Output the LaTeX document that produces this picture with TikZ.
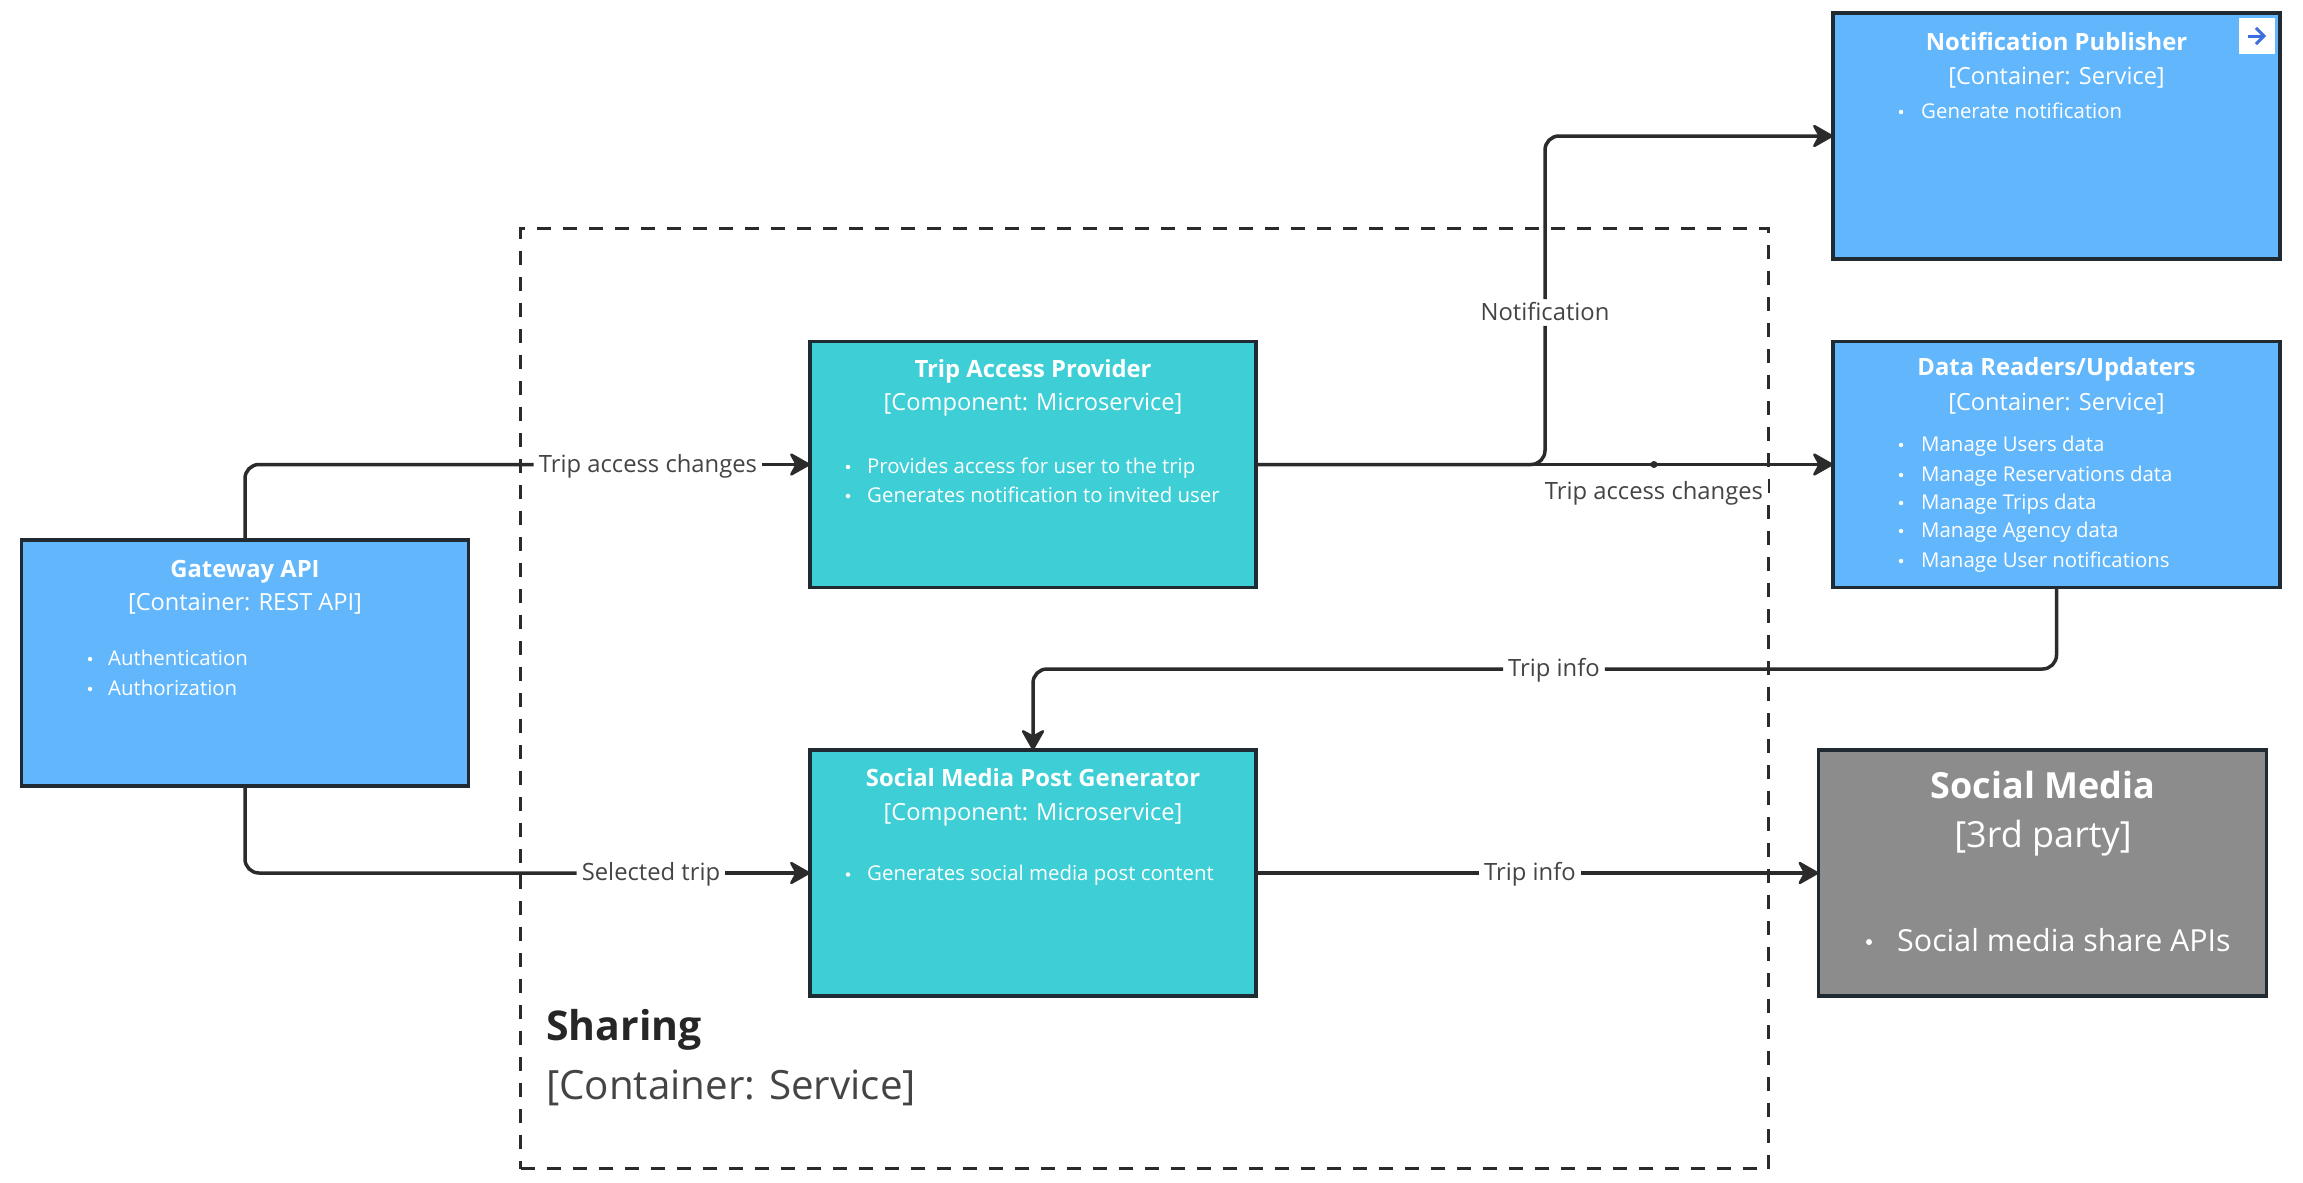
\documentclass[tikz,border=0pt]{standalone}
\usepackage{fontspec}
\setmainfont{Open Sans}
\usetikzlibrary{arrows.meta}
\definecolor{blueb}{HTML}{62B7FC}
\definecolor{tealb}{HTML}{3DCFD5}
\definecolor{grayb}{HTML}{8C8C8C}
\definecolor{edgec}{HTML}{1F2A33}
\definecolor{linec}{HTML}{2B2B2B}
\definecolor{lblc}{HTML}{444444}
\definecolor{iconc}{HTML}{3B6FE0}
\newcommand{\fs}[1]{\fontsize{#1}{#1}\selectfont}
\tikzset{
 card/.style={draw=edgec,line width=3.5pt,minimum width=#1,minimum height=246pt,inner sep=0pt,outer sep=0pt},
 bluecard/.style={card=447pt,fill=blueb},
 tealcard/.style={card=446pt,fill=tealb},
 graycard/.style={card=448pt,fill=grayb},
 ttl/.style={text=white,anchor=base,inner sep=0pt,font=\fs{23.8}\bfseries},
 sub/.style={text=white,anchor=base,inner sep=0pt,font=\fs{23.6}},
 itm/.style={text=white,anchor=base west,inner sep=0pt,font=\fs{20.4}},
 dot/.style={circle,fill=white,inner sep=0pt,minimum size=4.5pt},
 lbl/.style={text=lblc,fill=white,inner sep=0pt,inner xsep=5pt,font=\fs{23.8},text height=21pt,text depth=5.5pt},
 conn/.style={draw=linec,line width=3.5pt,rounded corners=14pt},
 arr/.style={conn,-{Stealth[length=23pt,width=26pt,inset=7pt,round,line width=2.5pt]}},
}
\begin{document}
\begin{tikzpicture}[x=1pt,y=-1pt]
\useasboundingbox (0,0) rectangle (2303,1183);
% container
\node[draw=linec,line width=3.5pt,dash pattern=on 14pt off 12pt,minimum width=1248pt,minimum height=940pt,inner sep=0pt] (sharing) at (1144.5,698.5) {};
\node[anchor=base west,inner sep=0pt,text=black!85,font=\fs{41}\bfseries] (sharingt) at (546,1040) {Sharing};
\node[anchor=base west,inner sep=0pt,text=lblc,font=\fs{40.3}] (sharings) at (546,1099.5) {[Container: Service]};
% boxes
\node[bluecard] (gw) at (245,663) {};
\node[tealcard] (trip) at (1033,464.5) {};
\node[tealcard] (post) at (1033,873) {};
\node[bluecard] (notif) at (2056.5,136) {};
\node[bluecard] (data) at (2056.5,464.5) {};
\node[graycard] (social) at (2042.5,873) {};
% labels
\node[lbl] (l1) at (648,464.5) {Trip access changes};
\node[lbl] (l2) at (651,873) {Selected trip};
\node[lbl] (l3) at (1545,312.5) {Notification};
\node[lbl] (l4) at (1554,669) {Trip info};
\node[lbl] (l5) at (1530,873) {Trip info};
\node[lbl] (l6) at (1654,492) {Trip access changes};
% connectors
\coordinate (jn) at (1654,464.5);
\draw[conn] (gw.north) |- (l1.west);
\draw[arr] (l1.east) -- (trip.west);
\draw[conn] (gw.south) |- (l2.west);
\draw[arr] (l2.east) -- (post.west);
\draw[conn] (trip.east) -| (l3.south);
\draw[arr] (l3.north) |- (notif.west);
\draw[arr] (trip.east) -- (data.west);
\fill[linec] (jn) circle (3.5pt);
\draw[conn] (data.south) |- (l4.east);
\draw[arr] (l4.west) -| (post.north);
\draw[conn] (post.east) -- (l5.west);
\draw[arr] (l5.east) -- (social.west);
% gateway text
\node[ttl] (gw1) at (245,577) {Gateway API};
\node[sub] (gw2) at (245,610) {[Container: REST API]};
\node[dot] (gwd1) at (90,659) {}; \node[itm] (gw3) at (108,665) {Authentication};
\node[dot] (gwd2) at (90,689) {}; \node[itm] (gw4) at (108,695) {Authorization};
% trip text
\node[ttl] (t1) at (1033,377) {Trip Access Provider};
\node[sub] (t2) at (1033,410.5) {[Component: Microservice]};
\node[dot] (td1) at (848,467) {}; \node[itm] (t3) at (867,473) {Provides access for user to the trip};
\node[dot] (td2) at (848,496) {}; \node[itm] (t4) at (867,502) {Generates notification to invited user};
% post text
\node[ttl] (p1) at (1033,786) {Social Media Post Generator};
\node[sub] (p2) at (1033,820) {[Component: Microservice]};
\node[dot] (pd1) at (848,874.5) {}; \node[itm] (p3) at (867,880.5) {Generates social media post content};
% notification text
\node[ttl] (n1) at (2056.5,50) {Notification Publisher};
\node[sub] (n2) at (2056.5,84) {[Container: Service]};
\node[dot] (nd1) at (1901,112) {}; \node[itm] (n3) at (1921,118) {Generate notification};
\node[fill=white,minimum size=36pt,inner sep=0pt] (icon) at (2257,36) {};
\draw[iconc,line width=3pt,-{Straight Barb[length=8pt,width=16pt]}] (icon.center) ++(-9,0) coordinate (ia) -- ++(18,0) coordinate (ib);
% data text
\node[ttl] (d1) at (2056.5,375.5) {Data Readers/Updaters};
\node[sub] (d2) at (2056.5,410.5) {[Container: Service]};
\node[dot] (dd1) at (1901,445) {}; \node[itm] (d3) at (1921,451) {Manage Users data};
\node[dot] (dd2) at (1901,475) {}; \node[itm] (d4) at (1921,481) {Manage Reservations data};
\node[dot] (dd3) at (1901,503) {}; \node[itm] (d5) at (1921,509) {Manage Trips data};
\node[dot] (dd4) at (1901,531) {}; \node[itm] (d6) at (1921,537) {Manage Agency data};
\node[dot] (dd5) at (1901,561) {}; \node[itm] (d7) at (1921,567) {Manage User notifications};
% social text
\node[anchor=base,inner sep=0pt,text=white,font=\fs{36}\bfseries] (s1) at (2043,798) {Social Media};
\node[anchor=base,inner sep=0pt,text=white,font=\fs{36}] (s2) at (2043,847) {[3rd party]};
\node[dot,minimum size=6pt] (sd1) at (1869,942) {}; \node[anchor=base west,inner sep=0pt,text=white,font=\fs{30.4}] (s3) at (1897,951) {Social media share APIs};
\end{tikzpicture}
\end{document}
